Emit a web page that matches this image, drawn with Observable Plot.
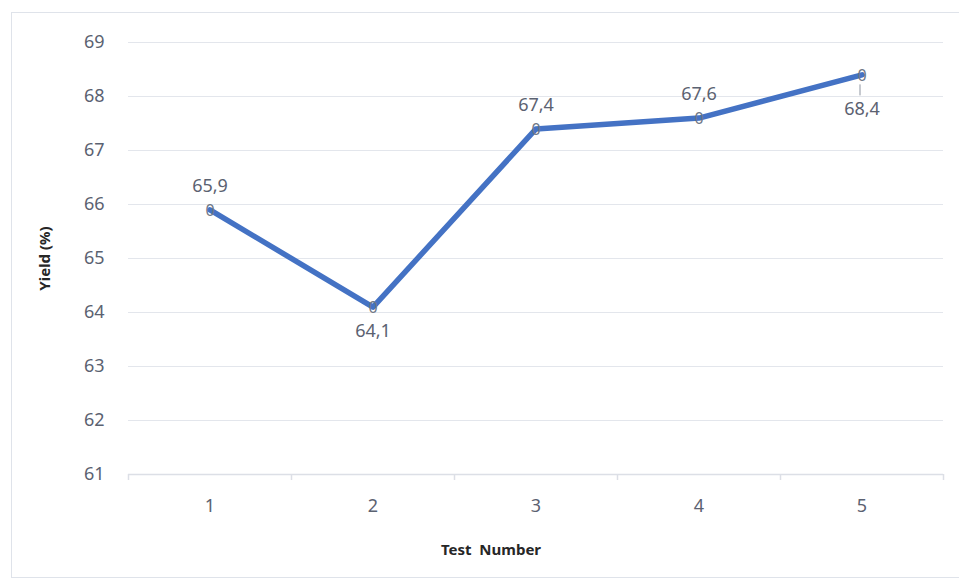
<!DOCTYPE html>
<html>
<head>
<meta charset="utf-8">
<script src="https://cdn.jsdelivr.net/npm/d3@7"></script>
<script src="https://cdn.jsdelivr.net/npm/@observablehq/plot@0.6"></script>
<style>
  html, body { margin: 0; padding: 0; background: #fff; }
  #wrap { position: relative; width: 959px; height: 580px; overflow: hidden; }
  #frame { position: absolute; left: 11px; top: 12px; width: 960px; height: 566px; border: 1px solid #dfe3ea; box-sizing: border-box; pointer-events: none; }
</style>
</head>
<body>
<div id="wrap"><div id="frame"></div></div>
<script>
const testNumbers = [1, 2, 3, 4, 5];
const yieldValues = [65.9, 64.1, 67.4, 67.6, 68.4];
const yTicks = [61, 62, 63, 64, 65, 66, 67, 68, 69];
const categoryEdges = [0.5, 1.5, 2.5, 3.5, 4.5, 5.5];
const labelsAbove = [1, 3, 4];
const labelsBelow = [2];
const labelsBelowLeader = [5];

const data = testNumbers.map((t, i) => ({ test: t, value: yieldValues[i], label: String(yieldValues[i]).replace(".", ",") }));
const font = "'Noto Sans', 'Open Sans', sans-serif";
const textColor = "#5b6271";

const chart = Plot.plot({
  width: 959,
  height: 580,
  marginLeft: 128,
  marginRight: 16,
  marginTop: 42,
  marginBottom: 106,
  style: { fontFamily: font, background: "transparent", overflow: "visible" },
  x: { type: "linear", domain: [0.5, 5.5], axis: null },
  y: { type: "linear", domain: [61, 69], axis: null },
  marks: [
    Plot.ruleY(yTicks.filter(v => v > 61), { y: d => d, stroke: "#e3e6ec", strokeWidth: 1.2 }),
    Plot.ruleY([61], { y: d => d, stroke: "#dcdfe6", strokeWidth: 1.5 }),
    Plot.ruleX(categoryEdges, { x: d => d, y1: () => 61, y2: () => 61, stroke: "#dcdfe6", strokeWidth: 1.5, insetBottom: -6 }),
    Plot.text(yTicks, { x: () => 0.5, y: d => d, text: d => String(d), textAnchor: "end", dx: -24, fontSize: 18, fill: textColor }),
    Plot.text(testNumbers, { x: d => d, y: () => 61, text: d => String(d), dy: 32, fontSize: 18, fill: textColor }),
    Plot.line(data, { x: "test", y: "value", stroke: "#4472c4", strokeWidth: 5.5, strokeLinejoin: "round", strokeLinecap: "round" }),
    Plot.text(data, { x: "test", y: "value", text: d => "0", fontSize: 16, fill: "#6e7685", dy: 1 }),
    Plot.text(data.filter(d => labelsAbove.includes(d.test)), { x: "test", y: "value", text: "label", dy: -24, fontSize: 18, fill: textColor }),
    Plot.text(data.filter(d => labelsBelow.includes(d.test)), { x: "test", y: "value", text: "label", dy: 24, fontSize: 18, fill: textColor }),
    Plot.text(data.filter(d => labelsBelowLeader.includes(d.test)), { x: "test", y: "value", text: "label", dy: 34, fontSize: 18, fill: textColor }),
    Plot.ruleX(data.filter(d => labelsBelowLeader.includes(d.test)), { x: "test", y1: "value", y2: "value", dx: -2, insetTop: 10, insetBottom: -21, stroke: "#8d94a0", strokeWidth: 1 }),
    Plot.text(["Yield (%)"], { x: () => 0.5, y: () => 65, text: d => d, rotate: -90, dx: -83, fontSize: 15, fontWeight: "bold", fill: "#262626" }),
    Plot.text(["Test  Number"], { x: () => 3, y: () => 61, text: d => d, dx: -45, dy: 76, fontSize: 15, fontWeight: "bold", fill: "#262626" })
  ]
});
document.getElementById("wrap").prepend(chart);
</script>
</body>
</html>
